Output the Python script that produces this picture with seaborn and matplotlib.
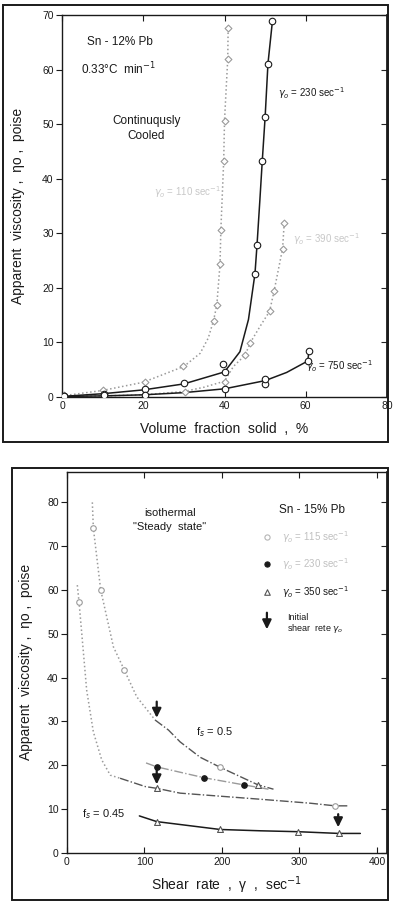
import numpy as np
import pandas as pd
import matplotlib
matplotlib.use("Agg")
import matplotlib.pyplot as plt
from matplotlib.patches import Rectangle
import seaborn as sns

# ---------------- data: top chart (continuously cooled) ----------------
# curve traces
c110_x = [0, 10, 20, 30, 34, 36, 37.3, 38.1, 38.9, 39.1, 39.8, 40.0, 40.8, 40.9]
c110_y = [0.2, 1.2, 2.7, 5.6, 8.0, 10.8, 14.0, 16.8, 24.4, 30.6, 43.2, 50.6, 62.0, 68.0]
m110_x = [0.5, 10.2, 20.4, 29.9, 37.3, 38.1, 38.9, 39.1, 39.8, 40.0, 40.8, 40.8]
m110_y = [0.4, 1.3, 2.8, 5.6, 14.0, 16.8, 24.4, 30.6, 43.2, 50.6, 62.0, 67.6]

c230_x = [0, 10, 20, 30, 40, 43.8, 45.9, 47.5, 48.0, 48.7, 49.3, 50.0, 50.7, 51.8]
c230_y = [0.1, 0.6, 1.3, 2.4, 4.6, 8.3, 14.2, 22.6, 27.8, 36.0, 43.3, 51.3, 61.1, 68.9]
m230_x = [0.5, 10.4, 20.4, 30.1, 39.7, 40.0, 47.5, 48.0, 49.3, 50.0, 50.7, 51.8]
m230_y = [0.2, 0.6, 1.4, 2.5, 6.1, 4.5, 22.6, 27.8, 43.3, 51.3, 61.1, 68.9]

c390_x = [0, 10, 20, 30, 35, 40, 42.2, 45.1, 46.3, 48.8, 51.1, 52.2, 54.3, 54.7]
c390_y = [0.1, 0.2, 0.4, 1.0, 1.8, 2.9, 5.6, 7.7, 9.9, 13.0, 15.7, 19.4, 27.2, 31.9]
m390_x = [30.3, 40.0, 45.1, 46.3, 51.1, 52.2, 54.3, 54.7]
m390_y = [0.9, 2.8, 7.7, 9.9, 15.7, 19.4, 27.2, 31.9]

c750_x = [0, 10, 20, 30, 40, 50, 55.3, 60.5, 60.8]
c750_y = [0.1, 0.2, 0.4, 0.8, 1.5, 3.0, 4.5, 6.6, 8.5]
m750_x = [0.5, 10.3, 20.4, 40.0, 50.0, 50.0, 60.5, 60.8]
m750_y = [0.2, 0.3, 0.4, 1.5, 2.3, 3.3, 6.6, 8.5]

top_xticks = [0, 20, 40, 60, 80]
top_yticks = [0, 10, 20, 30, 40, 50, 60, 70]

# ---------------- data: bottom chart (isothermal) ----------------
cA1_x = [32.7, 34.0, 43.5, 59.9, 74.0, 90.0, 113.7]
cA1_y = [80.0, 74.1, 60.0, 47.0, 41.7, 35.6, 30.3]
cA2_x = [113.7, 131.0, 146.0, 171.8, 197.7, 246.4, 266.5]
cA2_y = [30.3, 28.0, 25.3, 21.8, 19.5, 15.5, 14.5]

cB1_x = [13.3, 15.5, 25.4, 34.0, 44.8, 55.9, 68.5]
cB1_y = [61.1, 57.3, 37.1, 27.6, 21.2, 17.7, 17.0]
cB2_x = [68.5, 101.0, 115.8, 146.0, 250.0, 314.0, 346.0, 363.0]
cB2_y = [17.0, 15.1, 14.7, 13.6, 12.2, 11.3, 10.7, 10.7]

cC_x = [102.0, 115.8, 177.4, 227.8, 260.0]
cC_y = [20.5, 19.6, 17.1, 15.5, 14.5]

cD_x = [93.4, 115.8, 197.7, 250.0, 297.5, 350.8, 378.6]
cD_y = [8.4, 7.1, 5.3, 5.0, 4.8, 4.4, 4.4]

m115_x = [34.0, 43.5, 74.0, 197.7, 15.5, 346.0]
m115_y = [74.1, 60.0, 41.7, 19.5, 57.3, 10.7]
m230b_x = [115.8, 177.4, 227.8]
m230b_y = [19.6, 17.1, 15.5]
m350_x = [115.8, 197.7, 297.5, 350.8, 115.8, 246.4]
m350_y = [7.1, 5.3, 4.8, 4.4, 14.7, 15.5]

arrow_x = [115.8, 115.8, 350.0]
arrow_top = [34.5, 19.4, 8.8]
arrow_bot = [30.8, 15.6, 5.8]

bot_xticks = [0, 100, 200, 300, 400]
bot_yticks = [0, 10, 20, 30, 40, 50, 60, 70, 80]

# ---------------- styling ----------------
sns.set_theme(style="ticks")
plt.rcParams["font.family"] = ["Liberation Sans", "DejaVu Sans"]
plt.rcParams["mathtext.fontset"] = "dejavusans"

DARK = "#1a1a1a"
GRAY = "#9a9a9a"
MID = "#555555"

fig = plt.figure(figsize=(3.93, 9.02), dpi=100)

# outer frames
fig.patches.append(Rectangle((0.0085, 0.5103), 0.979, 0.4841, transform=fig.transFigure,
                             fill=False, edgecolor=DARK, linewidth=1.4))
fig.patches.append(Rectangle((0.0298, 0.0022), 0.9575, 0.479, transform=fig.transFigure,
                             fill=False, edgecolor=DARK, linewidth=1.4))

ax1 = fig.add_axes([62/393, (902-397)/902, (387-62)/393, (397-15)/902])
ax2 = fig.add_axes([67/393, (902-852.7)/902, (387-67)/393, (852.7-471.7)/902])

ARROW = dict(arrowstyle="-|>,head_width=0.22,head_length=0.45", color=DARK,
             lw=1.6, shrinkA=0, shrinkB=0)


def line(ax, x, y, color, ls, lw=1.0):
    sns.lineplot(x=x, y=y, ax=ax, color=color, linestyle=ls, linewidth=lw,
                 sort=False, estimator=None)


def pts(ax, x, y, marker, edge, face="white", s=18, lw=0.8):
    sns.scatterplot(x=x, y=y, ax=ax, marker=marker, s=s, color=face,
                    edgecolor=edge, linewidth=lw, zorder=5)


# ---- top chart ----
line(ax1, c110_x, c110_y, GRAY, ":", 1.1)
line(ax1, c390_x, c390_y, GRAY, ":", 1.1)
line(ax1, c230_x, c230_y, DARK, "-", 1.1)
line(ax1, c750_x, c750_y, DARK, "-", 1.1)
pts(ax1, m110_x, m110_y, "D", GRAY, s=12)
pts(ax1, m390_x, m390_y, "D", GRAY, s=12)
pts(ax1, m230_x, m230_y, "o", DARK, s=22)
pts(ax1, m750_x, m750_y, "o", DARK, s=22)

ax1.set_xlim(0, 80)
ax1.set_ylim(0, 70)
ax1.set_xticks(top_xticks)
ax1.set_yticks(top_yticks)

fs_t = 8.5
ax1.text(14.3, 65.1, "Sn - 12% Pb", ha="center", va="center", fontsize=fs_t, color=DARK)
ax1.text(14.0, 60.1, "0.33°C  min$^{-1}$", ha="center", va="center", fontsize=fs_t, color=DARK)
ax1.text(20.7, 50.6, "Continuqusly", ha="center", va="center", fontsize=fs_t, color=DARK)
ax1.text(20.8, 47.9, "Cooled", ha="center", va="center", fontsize=fs_t, color=DARK)
ax1.text(53.2, 55.6, r"$\gamma_o$ = 230 sec$^{-1}$", ha="left", va="center", fontsize=7, color=DARK)
ax1.text(22.7, 37.6, r"$\gamma_o$ = 110 sec$^{-1}$", ha="left", va="center", fontsize=7, color="#c8c8c8")
ax1.text(56.9, 28.9, r"$\gamma_o$ = 390 sec$^{-1}$", ha="left", va="center", fontsize=7, color="#c8c8c8")
ax1.text(60.1, 5.6, r"$\gamma_o$ = 750 sec$^{-1}$", ha="left", va="center", fontsize=7, color=DARK)

ax1.set_xlabel("Volume  fraction  solid  ,  %", fontsize=10, color=DARK)
ax1.set_ylabel("Apparent  viscosity ,  ηo ,  poise", fontsize=10, color=DARK)
ax1.xaxis.set_label_coords(0.5, -0.066)
ax1.yaxis.set_label_coords(-0.115, 0.5)

# ---- bottom chart ----
line(ax2, cA1_x, cA1_y, GRAY, ":", 1.1)
line(ax2, cA2_x, cA2_y, MID, "-.", 1.0)
line(ax2, cB1_x, cB1_y, GRAY, ":", 1.1)
line(ax2, cB2_x, cB2_y, MID, "-.", 1.0)
line(ax2, cC_x, cC_y, GRAY, "-.", 1.0)
line(ax2, cD_x, cD_y, DARK, "-", 1.1)
pts(ax2, m115_x, m115_y, "o", GRAY, s=16)
pts(ax2, m230b_x, m230b_y, "o", DARK, face=DARK, s=16)
pts(ax2, m350_x, m350_y, "^", MID, s=18)

for xa, yt, yb in zip(arrow_x, arrow_top, arrow_bot):
    ax2.annotate("", xy=(xa, yb), xytext=(xa, yt), arrowprops=ARROW)

ax2.set_xlim(0, 413)
ax2.set_ylim(0, 87)
ax2.set_xticks(bot_xticks)
ax2.set_yticks(bot_yticks)

ax2.text(133, 77.6, "isothermal", ha="center", va="center", fontsize=8, color=DARK)
ax2.text(133, 74.4, "\"Steady  state\"", ha="center", va="center", fontsize=8, color=DARK)
ax2.text(316, 78.2, "Sn - 15% Pb", ha="center", va="center", fontsize=8.5, color=DARK)

# legend rows
leg_mx = 258
leg_tx = 277
pts(ax2, [leg_mx], [72.1], "o", "#b5b5b5", s=14)
pts(ax2, [leg_mx], [65.9], "o", DARK, face=DARK, s=14)
pts(ax2, [leg_mx], [59.6], "^", MID, s=16)
ax2.text(leg_tx, 72.1, r"$\gamma_o$ = 115 sec$^{-1}$", ha="left", va="center", fontsize=7, color="#c0c0c0")
ax2.text(leg_tx, 65.9, r"$\gamma_o$ = 230 sec$^{-1}$", ha="left", va="center", fontsize=7, color="#c0c0c0")
ax2.text(leg_tx, 59.6, r"$\gamma_o$ = 350 sec$^{-1}$", ha="left", va="center", fontsize=7, color=DARK)
ax2.annotate("", xy=(leg_mx, 51.0), xytext=(leg_mx, 54.8), arrowprops=ARROW)
ax2.text(284, 53.6, "Initial", ha="left", va="center", fontsize=6.5, color=DARK)
ax2.text(284, 51.2, r"shear  rete $\gamma_o$", ha="left", va="center", fontsize=6.5, color=DARK)

ax2.text(191, 27.6, "f$_s$ = 0.5", ha="center", va="center", fontsize=8, color=DARK)
ax2.text(20, 8.8, "f$_s$ = 0.45", ha="left", va="center", fontsize=8, color=DARK)

ax2.set_xlabel("Shear  rate  ,  γ  ,  sec$^{-1}$", fontsize=10, color=DARK)
ax2.set_ylabel("Apparent  viscosity ,  ηo ,  poise", fontsize=10, color=DARK)
ax2.xaxis.set_label_coords(0.5, -0.058)
ax2.yaxis.set_label_coords(-0.106, 0.5)

# axes cosmetics
for ax in (ax1, ax2):
    for sp in ax.spines.values():
        sp.set_visible(True)
        sp.set_color(DARK)
        sp.set_linewidth(1.0)
    ax.tick_params(axis="x", direction="in", top=True, length=4, width=0.8,
                   labelsize=7.5, colors=DARK, pad=3)
    ax.tick_params(axis="y", direction="out", left=True, length=4, width=0.8,
                   labelsize=7.5, colors=DARK, pad=2)
    sec = ax.secondary_yaxis("right")
    sec.set_yticks(ax.get_yticks())
    sec.tick_params(direction="in", length=4, width=0.8, labelright=False)
    sec.spines["right"].set_color(DARK)
    ax.set_facecolor("white")

fig.savefig("out.png", dpi=100, facecolor="white")
